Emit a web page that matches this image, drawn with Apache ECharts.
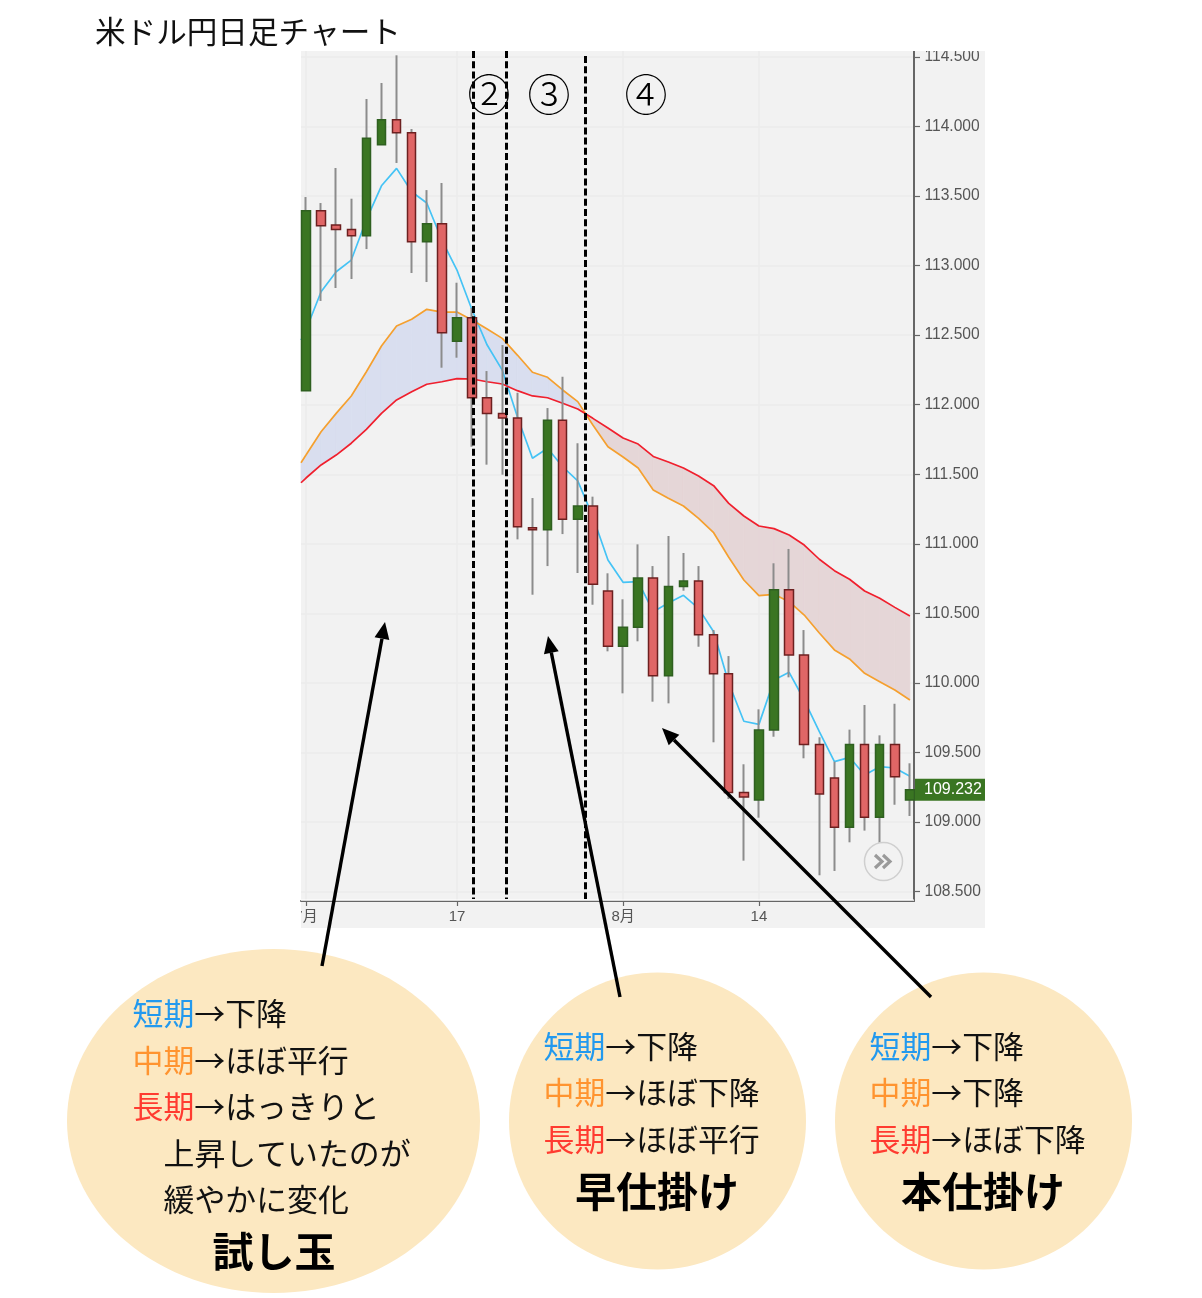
<!DOCTYPE html>
<html><head><meta charset="utf-8">
<style>html,body{margin:0;padding:0;background:#fff}#c{width:1202px;height:1298px}</style>
<script src="https://cdn.jsdelivr.net/npm/echarts@6/dist/echarts.min.js"></script>
</head><body><div id="c"></div>
<script>
const titleText = '米ドル円日足チャート';
const opens = [112.101,113.395,113.292,113.26,113.215,113.869,114.049,113.955,113.172,113.301,112.456,112.625,112.05,111.937,111.904,111.116,111.101,111.888,111.176,111.272,110.661,110.263,110.4,110.754,110.052,110.693,110.733,110.346,110.065,109.212,109.158,109.661,110.67,110.201,109.557,109.316,108.962,109.557,109.034,109.557,109.158];
const closes = [113.395,113.287,113.26,113.215,113.915,114.049,113.955,113.172,113.301,112.518,112.625,112.05,111.937,111.904,111.123,111.101,111.888,111.176,111.272,110.709,110.263,110.4,110.754,110.052,110.693,110.733,110.346,110.065,109.212,109.18,109.661,110.67,110.201,109.557,109.201,108.962,109.557,109.034,109.557,109.326,109.232];
const lows = [112.101,112.746,112.839,112.904,113.119,113.869,113.738,112.947,112.882,112.266,112.338,111.698,111.569,111.497,111.032,110.634,110.84,111.07,110.79,110.562,110.227,109.925,110.299,109.865,109.853,110.663,110.26,109.573,109.165,108.722,109.031,109.613,110.04,109.458,108.617,108.648,108.854,108.938,108.85,109.124,109.043];
const highs = [113.493,113.45,113.702,113.481,114.198,114.313,114.512,113.982,113.543,113.594,112.877,112.695,112.242,112.429,112.086,111.329,111.976,112.201,111.723,111.339,110.788,110.601,110.996,110.84,111.056,110.934,110.84,110.38,110.193,109.415,109.81,110.86,110.963,110.38,109.609,109.434,109.664,109.841,109.623,109.85,109.422];
// moving averages: the first value sits at the left edge of the visible window
const shortMA = [112.465,112.537,112.812,112.956,113.04,113.33,113.574,113.699,113.531,113.45,113.184,112.968,112.681,112.429,112.249,111.914,111.615,111.687,111.554,111.452,111.195,110.884,110.723,110.728,110.512,110.574,110.63,110.536,110.368,109.999,109.724,109.702,110.021,110.076,109.877,109.649,109.434,109.465,109.338,109.398,109.388,109.329];
const mediumMA = [111.583,111.638,111.806,111.938,112.063,112.237,112.422,112.566,112.614,112.686,112.666,112.666,112.609,112.544,112.477,112.357,112.233,112.197,112.106,112.022,111.854,111.698,111.624,111.545,111.387,111.327,111.272,111.183,111.08,110.903,110.74,110.627,110.637,110.584,110.488,110.359,110.237,110.172,110.069,110.009,109.949,109.877];
const longMA = [111.439,111.473,111.567,111.638,111.723,111.823,111.938,112.034,112.093,112.147,112.165,112.187,112.185,112.165,112.149,112.101,112.063,112.05,112.01,111.969,111.902,111.833,111.761,111.717,111.628,111.588,111.545,111.487,111.418,111.291,111.2,111.128,111.109,111.063,110.991,110.889,110.807,110.745,110.661,110.608,110.543,110.481];
const yTicks = [108.5,109,109.5,110,110.5,111,111.5,112,112.5,113,113.5,114,114.5];
const xTickIndex = [0,10,21,30];
const xTickLabels = ['7月','17','8月','14'];
const lastPrice = 109.232;
const circled = ['②','③','④'];

const xMin = -0.33, xMax = 40.27;
const yMin = 108.432, yMax = 114.543;
const CJK = '"Noto Sans CJK JP","Noto Sans",sans-serif';
const LAT = '"Liberation Sans",Arial,"Noto Sans CJK JP",sans-serif';
const lineX = i => i === 0 ? xMin : i - 1;

const chart = echarts.init(document.getElementById('c'), null, {renderer:'canvas', width:1202, height:1298});

function band(params, api){
  const x0 = api.value(0), x1 = api.value(3);
  const m0 = api.value(1), l0 = api.value(2), m1 = api.value(4), l1 = api.value(5);
  const blue = '#d9deef', red = '#e5d6d7';
  const poly = (pts, fill) => ({type:'polygon', shape:{points:pts.map(p=>api.coord(p))}, style:{fill, stroke:fill, lineWidth:0.7}, silent:true});
  const d0 = m0 - l0, d1 = m1 - l1;
  if (d0 * d1 >= 0) {
    return poly([[x0,m0],[x1,m1],[x1,l1],[x0,l0]], d0 >= 0 ? blue : red);
  }
  const t = d0 / (d0 - d1), xc = x0 + t * (x1 - x0), yc = m0 + t * (m1 - m0);
  return {type:'group', children:[
    poly([[x0,m0],[xc,yc],[x0,l0]], d0 >= 0 ? blue : red),
    poly([[xc,yc],[x1,m1],[x1,l1]], d1 >= 0 ? blue : red)
  ]};
}

function arrow(x1,y1,x2,y2){
  const a = Math.atan2(y2-y1,x2-x1), L = 17, W = 7.5;
  const bx = x2 - L*Math.cos(a), by = y2 - L*Math.sin(a);
  const nx = -Math.sin(a), ny = Math.cos(a);
  return [
    {type:'line', z:66, shape:{x1,y1,x2:bx,y2:by}, style:{stroke:'#000', lineWidth:3.4}},
    {type:'polygon', z:66, shape:{points:[[x2,y2],[bx+nx*W,by+ny*W],[bx-nx*W,by-ny*W]]}, style:{fill:'#000'}}
  ];
}
const dash = (x, y1) => ({type:'line', z:50, shape:{x1:x,y1,x2:x,y2:899}, style:{stroke:'#000', lineWidth:3, lineDash:[7,3.2]}});
const chevron = x => ({type:'polyline', z:46, shape:{points:[[x-4,855],[x+3,861.5],[x-4,868]]}, style:{stroke:'#9a9a9a', lineWidth:3.2, fill:null}});
const SZ = 30.9;
const rich = {
  b:{fill:'#2299ee', fontSize:SZ, fontFamily:CJK},
  o:{fill:'#ff9430', fontSize:SZ, fontFamily:CJK},
  r:{fill:'#ff3b30', fontSize:SZ, fontFamily:CJK},
  k:{fill:'#111', fontSize:SZ, fontFamily:CJK}
};
const say = (x,y,text) => ({type:'text', z:70, style:{x,y,text,rich,verticalAlign:'middle',align:'left',fontSize:SZ,fontFamily:CJK}});
const big = (x,y,text) => ({type:'text', z:70, style:{x,y,text,fill:'#000',fontSize:41,fontWeight:'bold',fontFamily:CJK,align:'center',verticalAlign:'middle'}});
const blob = (cx,cy,rx,ry) => ({type:'ellipse', z:65, shape:{cx,cy,rx,ry}, style:{fill:'#fce8c1'}});

const elements = [
  {type:'rect', z:-10, shape:{x:301,y:51,width:684,height:877}, style:{fill:'#f2f2f2'}},
  {type:'rect', z:40, shape:{x:286,y:903,width:15,height:25}, style:{fill:'#fff'}},
  {type:'rect', z:40, shape:{x:905,y:30,width:95,height:21}, style:{fill:'#fff'}},
  {type:'rect', z:40, shape:{x:301,y:899.5,width:613,height:1.2}, style:{fill:'#fff'}},
  {type:'text', z:70, style:{x:95,y:31,text:titleText,fill:'#111',fontSize:30.6,fontFamily:CJK,verticalAlign:'middle'}},
  {type:'circle', z:45, shape:{cx:883.5,cy:861.5,r:19}, style:{fill:'rgba(242,242,242,0.6)',stroke:'#cfcfcf',lineWidth:1.5}},
  chevron(879), chevron(887),
  dash(473.5,51), dash(506.5,51), dash(585.5,56),
  {type:'text', z:70, style:{x:489,y:95,text:circled[0],fill:'#000',fontSize:43,fontWeight:300,fontFamily:CJK,align:'center',verticalAlign:'middle'}},
  {type:'text', z:70, style:{x:549,y:95,text:circled[1],fill:'#000',fontSize:43,fontWeight:300,fontFamily:CJK,align:'center',verticalAlign:'middle'}},
  {type:'text', z:70, style:{x:646,y:95,text:circled[2],fill:'#000',fontSize:43,fontWeight:300,fontFamily:CJK,align:'center',verticalAlign:'middle'}},
  ...arrow(322,966,385,622),
  ...arrow(620,997,548,636),
  ...arrow(931,997,662,728),
  blob(273.5,1121,206.5,172), blob(657.5,1121,148.5,148.5), blob(983.5,1121,148.5,148.5),
  say(132.5,1013,'{b|短期}{k|→下降}'), say(132.5,1060,'{o|中期}{k|→ほぼ平行}'), say(132.5,1106,'{r|長期}{k|→はっきりと}'),
  say(163.5,1153,'{k|上昇していたのが}'), say(163.5,1199,'{k|緩やかに変化}'), big(274,1251,'試し玉'),
  say(543.5,1046,'{b|短期}{k|→下降}'), say(543.5,1092,'{o|中期}{k|→ほぼ下降}'), say(543.5,1139,'{r|長期}{k|→ほぼ平行}'), big(657,1191,'早仕掛け'),
  say(869.5,1046,'{b|短期}{k|→下降}'), say(869.5,1092,'{o|中期}{k|→下降}'), say(869.5,1139,'{r|長期}{k|→ほぼ下降}'), big(983,1191,'本仕掛け')
];

const option = {
  animation:false,
  backgroundColor:'#fff',
  grid:{left:301, top:51, width:613, height:850, containLabel:false},
  xAxis:{
    type:'value', min:xMin, max:xMax, position:'bottom',
    axisLine:{show:true, onZero:false, lineStyle:{color:'#666', width:2}},
    axisTick:{show:true, length:5, customValues:xTickIndex, lineStyle:{color:'#666', width:1.2}},
    axisLabel:{customValues:xTickIndex, margin:8, color:'#555', fontSize:15, fontFamily:LAT, hideOverlap:false, showMinLabel:true,
      formatter:v=>xTickLabels[xTickIndex.indexOf(Math.round(v))]||''},
    splitLine:{show:true, lineStyle:{color:'#ebebeb', width:1.5}}
  },
  yAxis:{
    type:'value', min:yMin, max:yMax, position:'right', scale:true,
    axisLine:{show:true, onZero:false, lineStyle:{color:'#666', width:2}},
    axisTick:{show:true, length:6, customValues:yTicks, lineStyle:{color:'#666', width:1.2}},
    axisLabel:{customValues:yTicks, margin:10.5, color:'#555', fontSize:15.6, fontFamily:LAT, padding:[0,0,1,0], formatter:v=>v.toFixed(3)},
    splitLine:{show:true, lineStyle:{color:'#ebebeb', width:1.5}}
  },
  series:[
    {type:'custom', name:'band', renderItem:band, silent:true, z:1, encode:{x:0,y:1},
      data:mediumMA.slice(0,-1).map((m,i)=>[lineX(i),m,longMA[i],lineX(i+1),mediumMA[i+1],longMA[i+1]])},
    {type:'line', name:'short', z:2, showSymbol:false, symbol:'none', lineStyle:{color:'#45c3f5',width:1.7}, data:shortMA.map((v,i)=>[lineX(i),v])},
    {type:'line', name:'medium', z:2, showSymbol:false, symbol:'none', lineStyle:{color:'#f5a02f',width:1.7}, data:mediumMA.map((v,i)=>[lineX(i),v])},
    {type:'line', name:'long', z:2, showSymbol:false, symbol:'none', lineStyle:{color:'#f0202e',width:1.7}, data:longMA.map((v,i)=>[lineX(i),v])},
    {type:'candlestick', name:'wick', z:3, barWidth:1, encode:{x:0,y:[1,2,3,4]},
      itemStyle:{color:'#8c8c8c',color0:'#8c8c8c',borderColor:'#8c8c8c',borderColor0:'#8c8c8c',borderWidth:2},
      data:opens.map((o,i)=>[i,o,closes[i],lows[i],highs[i]])},
    {type:'candlestick', name:'body', z:4, barWidth:9, encode:{x:0,y:[1,2,3,4]},
      itemStyle:{color:'#3a7522',color0:'#e06666',borderColor:'#2f6020',borderColor0:'#6d2020',borderWidth:1.5},
      data:opens.map((o,i)=>[i,o,closes[i],Math.min(o,closes[i]),Math.max(o,closes[i])])},
    {type:'line', name:'last', z:30, symbol:'none', clip:false, silent:true, lineStyle:{width:0,color:'transparent'}, data:[[xMin,lastPrice],[xMax,lastPrice]],
      endLabel:{show:true, distance:1, formatter:()=>lastPrice.toFixed(3), color:'#fff', backgroundColor:'#3a7522', fontSize:16, fontFamily:LAT, padding:[4,1,3,9], width:60, height:15, lineHeight:15, align:'left'}}
  ],
  graphic:{elements}
};
chart.setOption(option);
</script></body></html>
